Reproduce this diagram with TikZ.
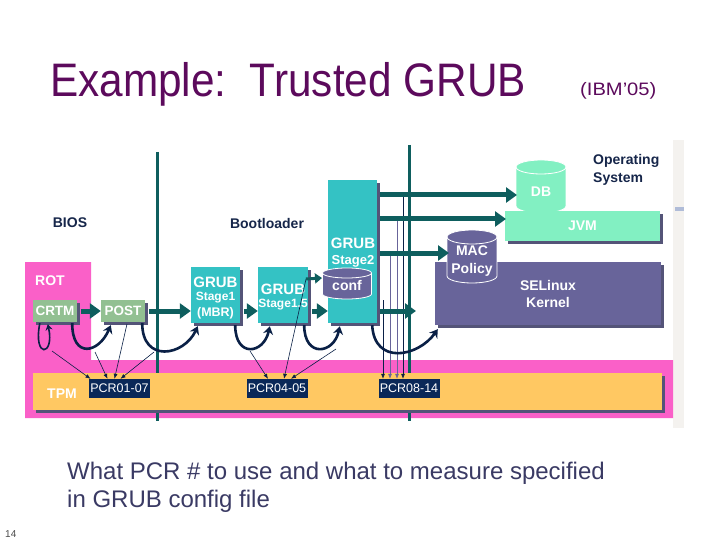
\documentclass[tikz,border=0pt]{standalone}
\usepackage{graphicx}
\usepackage{fontspec}
\setmainfont{Liberation Sans}
\usetikzlibrary{arrows.meta,shadows,calc}
\definecolor{titlec}{RGB}{92,10,92}
\definecolor{navy}{RGB}{22,38,74}
\definecolor{tealdk}{RGB}{14,94,94}
\definecolor{grubc}{RGB}{52,194,196}
\definecolor{greenc}{RGB}{146,192,146}
\definecolor{shadowc}{RGB}{84,84,120}
\definecolor{pinkc}{RGB}{250,96,200}
\definecolor{tpmc}{RGB}{255,200,98}
\definecolor{mintc}{RGB}{130,240,194}
\definecolor{purc}{RGB}{104,100,154}
\definecolor{pcrc}{RGB}{10,40,88}
\definecolor{curvec}{RGB}{10,32,70}
\definecolor{bodytext}{RGB}{58,58,100}
\definecolor{stripc}{RGB}{244,242,239}
\definecolor{markc}{RGB}{176,188,216}
\newcommand{\mycyl}[6]{%
 \fill[#6] (#1-#4,#2+#5) rectangle (#1+#4,#3-#5);
 \fill[#6] (#1,#3-#5) ellipse [x radius=#4, y radius=#5];
 \fill[#6] (#1,#2+#5) ellipse [x radius=#4, y radius=#5];
 \draw[white, line width=0.8pt] (#1,#2+#5) ellipse [x radius=#4, y radius=#5];
 \draw[white, line width=0.8pt] (#1-#4,#2+#5) -- (#1-#4,#3-#5) arc[start angle=180, end angle=0, x radius=#4, y radius=#5] -- (#1+#4,#2+#5);
}
\tikzset{
 box/.style={rectangle, inner sep=0pt, text=white, font=\bfseries\fontsize{14}{16}\selectfont,
   drop shadow={shadow xshift=3pt, shadow yshift=-3pt, fill=shadowc, opacity=1}},
 lbl/.style={text=white, font=\bfseries\fontsize{14}{16}\selectfont, inner sep=0pt, align=center},
 hdr/.style={text=navy, font=\bfseries\fontsize{14}{17}\selectfont, inner sep=0pt},
 pcr/.style={fill=pcrc, text=white, font=\fontsize{12.5}{14}\selectfont, minimum width=61pt, minimum height=19pt, inner sep=0pt},
 bigarrow/.style={draw=tealdk, line width=5pt, -{Triangle[length=11pt,width=15pt]}},
 smallarrow/.style={draw=tealdk, line width=3pt, -{Triangle[length=7pt,width=10pt]}},
 vline/.style={draw=tealdk, line width=3pt},
 curv/.style={draw=curvec, line width=2.6pt, -{Stealth[length=8pt,width=10pt]}},
 loopc/.style={draw=curvec, line width=1.6pt, -{Stealth[length=6pt,width=7pt]}},
 meas/.style={draw=curvec, line width=0.6pt, -{Latex[length=5pt,width=4pt]}},
}
\begin{document}
\begin{tikzpicture}[x=1pt,y=-1pt]
\useasboundingbox (0,0) rectangle (720,540);
\fill[white] (0,0) rectangle (720,540);

% title
\node[anchor=base west, inner sep=0pt, text=titlec, font=\fontsize{47}{50}\selectfont] (title) at (50,97) {\scalebox{0.9}[1]{Example:\ \ Trusted GRUB}};
\node[anchor=base west, inner sep=0pt, text=titlec, font=\fontsize{18}{20}\selectfont] (ibm) at (580,96) {\scalebox{1.12}[1]{(IBM’05)}};

% right strip
\fill[stripc] (673,140) rectangle (684,428);
\fill[markc] (675,207) rectangle (684,211);

% pink region
\fill[pinkc] (25,262) -- (91,262) -- (91,360) -- (673,360) -- (673,418) -- (25,418) -- cycle;

% vertical separators
\coordinate (v1t) at (157,152); \coordinate (v1b) at (157,421);
\coordinate (v2t) at (409,145); \coordinate (v2b) at (409,421);
\draw[vline] (v1t) -- (v1b);
\draw[vline] (v2t) -- (v2b);

% TPM
\node[box, fill=tpmc, minimum width=629pt, minimum height=37pt] (tpm) at (347.5,391.5) {};
\node[lbl, anchor=west] (tpmlbl) at (47,394) {TPM};

% headers
\node[hdr] (bios) at (70,223) {BIOS};
\node[hdr] (boot) at (267,223) {Bootloader};
\node[hdr, anchor=north west, align=left, font=\bfseries\fontsize{14}{18}\selectfont] (os) at (593,154) {Operating\\System};
\node[lbl, anchor=west] (rot) at (35,281) {ROT};

% BIOS boxes
\node[box, fill=greenc, minimum width=44pt, minimum height=22pt, font=\bfseries\fontsize{13.5}{16}\selectfont] (crtm) at (55,311) {CRTM};
\node[box, fill=greenc, minimum width=44pt, minimum height=22pt, font=\bfseries\fontsize{13.5}{16}\selectfont] (post) at (123,311) {POST};

% GRUB boxes
\node[box, fill=grubc, minimum width=49pt, minimum height=56pt] (s1) at (215.5,295) {};
\node[lbl, align=center, font=\bfseries\fontsize{15}{16}\selectfont] (s1a) at (215.5,282) {GRUB};
\node[lbl, align=center, font=\bfseries\fontsize{12}{14}\selectfont] (s1b) at (215.5,298) {Stage1};
\node[lbl, align=center, font=\bfseries\fontsize{12.5}{14}\selectfont] (s1c) at (215.5,313) {(MBR)};
\node[box, fill=grubc, minimum width=50pt, minimum height=56pt] (s15) at (283,295) {};
\node[lbl, font=\bfseries\fontsize{15}{16}\selectfont] (s15a) at (283,289) {GRUB};
\node[lbl, font=\bfseries\fontsize{12}{14}\selectfont] (s15b) at (283,305) {Stage1.5};
\node[box, fill=grubc, minimum width=49pt, minimum height=143pt] (s2) at (352.5,251.5) {};
\node[lbl, font=\bfseries\fontsize{15}{16}\selectfont] (s2a) at (353,243) {GRUB};
\node[lbl, font=\bfseries\fontsize{13}{14}\selectfont] (s2b) at (353,261) {Stage2};
\mycyl{347}{268}{299}{24.5}{5}{purc}
\node[lbl] (conf) at (347,285) {conf};

% OS side
\mycyl{541}{160}{213}{25}{7}{mintc}
\node[lbl] (db) at (541,192) {DB};
\node[box, fill=mintc, minimum width=155pt, minimum height=30pt] (jvm) at (582.5,226) {JVM};
\node[box, fill=purc, minimum width=226pt, minimum height=63pt, align=center, font=\bfseries\fontsize{14}{17}\selectfont] (kern) at (548,293.5) {SELinux\\Kernel};
\mycyl{472}{230}{283}{25}{7}{purc}
\node[lbl, font=\bfseries\fontsize{14}{18}\selectfont] (mac) at (472,261) {MAC\\Policy};

% coordinates for measurement lines
\coordinate (m1) at (52,351);
\coordinate (m2) at (95,352);
\coordinate (m3) at (127,324);
\coordinate (m4) at (154,352);
\coordinate (m5) at (250,351);
\coordinate (m6) at (306,279);
\coordinate (m7) at (336,349);
\coordinate (k1) at (383,300);
\coordinate (k2) at (390,255);
\coordinate (k3) at (397,219);
\coordinate (k4) at (403,195);

% PCR boxes
\node[pcr] (pcr1) at (119.5,388.5) {PCR01-07};
\node[pcr] (pcr2) at (277,388.5) {PCR04-05};
\node[pcr] (pcr3) at (409,388.5) {PCR08-14};

% thin measurement lines
\draw[meas] (m1) -- ($(pcr1.north)+(-29,0)$);
\draw[meas] (m2) -- ($(pcr1.north)+(-12,0)$);
\draw[meas] (m3) -- ($(pcr1.north)+(-5,0)$);
\draw[meas] (m4) -- ($(pcr1.north)+(1,0)$);
\draw[meas] (m5) -- ($(pcr2.north)+(-9,0)$);
\draw[meas] (m6) -- ($(pcr2.north)+(7,0)$);
\draw[meas] (m7) -- ($(pcr2.north)+(14,0)$);
\draw[meas] (k1) -- ($(pcr3.north)+(-26,0)$);
\draw[meas, draw=purc] (k2) -- ($(pcr3.north)+(-19,0)$);
\draw[meas, draw=purc] (k3) -- ($(pcr3.north)+(-12,0)$);
\draw[meas] (k4) -- ($(pcr3.north)+(-6,0)$);

% flow arrows
\draw[bigarrow, shorten <=2pt] ($(crtm.east)+(2,0)$) -- (post.west);
\draw[bigarrow, shorten <=2pt] ($(post.east)+(2,0)$) -- (post.east -| s1.west);
\draw[bigarrow, shorten <=2pt] ($(s1.east |- post.east)+(2,0)$) -- (post.east -| s15.west);
\draw[bigarrow, shorten <=2pt] ($(s15.east |- post.east)+(2,0)$) -- (post.east -| s2.west);
\coordinate (dbin) at (517,195);
\coordinate (jvmin) at (506,219);
\coordinate (macin) at (449,253);
\coordinate (kin) at (416,311);
\draw[bigarrow] (s2.east |- dbin) ++(3,0) -- (dbin);
\draw[bigarrow] (s2.east |- jvmin) ++(3,0) -- (jvmin);
\draw[bigarrow] (s2.east |- macin) ++(3,0) -- (macin);
\draw[bigarrow] (s2.east |- kin) ++(3,0) -- (kin);
\coordinate (confin) at (322,278);
\draw[smallarrow] (m6) -- (confin);

% curved measure arrows
\draw[loopc] ($(crtm.south west)+(7,1)$) .. controls +(-7,36) and +(7,32) .. ($(crtm.south west)+(15,2)$);
\draw[curv] ($(crtm.south east)+(-5,1)$) .. controls +(0,36) and +(-12,28) .. ($(post.south west)+(10,3)$);
\draw[curv] ($(post.south east)+(-3,1)$) .. controls +(0,40) and +(-14,30) .. ($(s1.south west)+(7,3)$);
\draw[curv] ($(s1.south east)+(-5,2)$) .. controls +(0,33) and +(-6,28) .. ($(s15.south west)+(12,3)$);
\draw[curv] ($(s15.south east)+(-4,2)$) .. controls +(0,33) and +(-6,28) .. ($(s2.south west)+(12,3)$);
\draw[curv] ($(s2.south east)+(-5,2)$) .. controls +(2,40) and +(-20,28) .. ($(kern.south west)+(3,4)$);

% bottom text
\node[anchor=base west, inner sep=0pt, text=bodytext, font=\fontsize{24}{28}\selectfont] (note1) at (67,479) {What PCR \# to use and what to measure specified};
\node[anchor=base west, inner sep=0pt, text=bodytext, font=\fontsize{24}{28}\selectfont] (note2) at (67,507) {in GRUB config file};
\node[anchor=base west, inner sep=0pt, text=black!70, font=\fontsize{10}{12}\selectfont] (pg) at (5,537) {14};
\end{tikzpicture}
\end{document}
